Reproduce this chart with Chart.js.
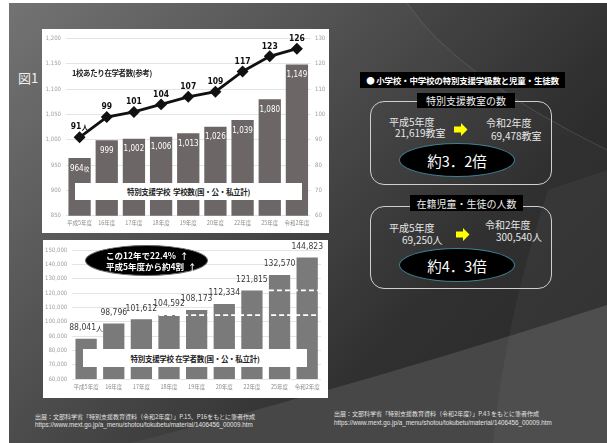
<!DOCTYPE html>
<html lang="ja">
<head>
<meta charset="utf-8">
<script src="https://cdn.jsdelivr.net/npm/chart.js@4.4.1/dist/chart.umd.min.js"></script>
<style>
html, body { margin: 0; padding: 0; }
body { width: 607px; height: 443px; background: #fff; position: relative; overflow: hidden;
       font-family: "Noto Sans CJK JP", "Noto Sans", sans-serif; }
#bg { position: absolute; left: 0; top: 0; }
.t { position: absolute; white-space: nowrap; line-height: 1; }
.panel { position: absolute; background: #fff; }
.box { position: absolute; background: #fff; display: flex; align-items: center; justify-content: center;
       font-weight: bold; font-size: 7.5px; color: #222; letter-spacing: -0.3px; white-space: nowrap; }
.frame { position: absolute; border: 1.5px solid #cfcfcf; border-radius: 14px; box-sizing: border-box; }
.caption { position: absolute; background: #000; color: #eee; font-size: 10px; display: flex;
           align-items: center; justify-content: center; white-space: nowrap; }
.oval { position: absolute; background: #000; border: 1px solid #3f7f93; border-radius: 50%; box-sizing: border-box;
        color: #fff; font-size: 14.5px; display: flex; align-items: center; justify-content: center; }
.light { color: #e6e6e6; font-size: 10px; }
.note { color: #e2e2e2; font-size: 6px; }
.url { font-family: "Liberation Sans", Arial, sans-serif; font-size: 6.3px; }
</style>
</head>
<body>
<svg id="bg" width="607" height="443">
  <defs>
    <linearGradient id="base" gradientUnits="userSpaceOnUse" x1="9" y1="3" x2="480" y2="430">
      <stop offset="0" stop-color="#737373"/>
      <stop offset="0.45" stop-color="#4d4d4d"/>
      <stop offset="0.8" stop-color="#303030"/>
      <stop offset="1" stop-color="#2c2c2c"/>
    </linearGradient>
  </defs>
  <rect x="9" y="3" width="598" height="440" fill="url(#base)"/>
  <path d="M 407 3 Q 455 75 607 150 L 607 3 Z" fill="#000" opacity="0.06"/>
  <path d="M 407 3 Q 455 75 607 150" stroke="#9a9a9a" stroke-opacity="0.25" fill="none"/>
  <path d="M 130 443 Q 360 385 607 305 L 607 443 Z" fill="#474747"/>
  <path d="M 548 190 Q 505 320 493 443 L 607 443 L 607 170 Z" fill="#fff" opacity="0.04"/>
</svg>

<div class="t" style="left:18px; top:71px; font-size:13px; color:#f0f0f0;">図1</div>

<!-- chart 1 -->
<div class="panel" style="left:42px; top:29px; width:287px; height:204px;">
  <canvas id="schoolChart"></canvas>
</div>
<div class="t" style="left:72px; top:69px; font-size:7.5px; font-weight:bold; color:#222; letter-spacing:-0.4px;">1校あたり在学者数(参考)</div>
<div class="box" style="left:75px; top:183px; width:227px; height:17px;">特別支援学校&nbsp;&nbsp;学校数(国・公・私立計)</div>

<!-- chart 2 -->
<div class="panel" style="left:43px; top:240px; width:285px; height:158px;">
  <canvas id="studentChart"></canvas>
</div>
<div class="box" style="left:83px; top:349px; width:224px; height:18px;">特別支援学校 在学者数(国・公・私立計)</div>
<div class="oval" style="left:85px; top:245px; width:123px; height:31px; border-color:#666; font-size:8.5px; font-weight:bold; display:block;">
  <div class="t" style="left:20px; top:5px;">この12年で22.4%&nbsp;&nbsp;↑</div>
  <div class="t" style="left:20px; top:16px;">平成5年度から約4割&nbsp;&nbsp;↑</div>
</div>

<!-- right side -->
<div class="caption" style="left:360px; top:72px; width:205px; height:16px; font-size:8.5px; font-weight:bold; color:#fff; letter-spacing:-0.2px;">●&nbsp;小学校・中学校の特別支援学級数と児童・生徒数</div>

<div class="frame" style="left:370px; top:101px; width:182px; height:84px;"></div>
<div class="caption" style="left:417px; top:93px; width:98px; height:15px;">特別支援教室の数</div>
<div class="t light" style="left:389px; top:117px;">平成5年度</div>
<div class="t light" style="left:395px; top:128px;">21,619教室</div>
<div class="t light" style="left:486px; top:118px;">令和2年度</div>
<div class="t light" style="left:491px; top:131px;">69,478教室</div>
<svg class="t" style="left:454px; top:123px;" width="14" height="13"><polygon points="0,3.5 7,3.5 7,0 13.5,6.5 7,13 7,9.5 0,9.5" fill="#ffff00"/></svg>
<div class="oval" style="left:399px; top:143px; width:116px; height:34px;">約3．2倍</div>

<div class="frame" style="left:370px; top:206px; width:182px; height:83px;"></div>
<div class="caption" style="left:410px; top:195px; width:113px; height:16px;">在籍児童・生徒の人数</div>
<div class="t light" style="left:389px; top:223px;">平成5年度</div>
<div class="t light" style="left:402px; top:235px;">69,250人</div>
<div class="t light" style="left:485px; top:220px;">令和2年度</div>
<div class="t light" style="left:496px; top:232px;">300,540人</div>
<svg class="t" style="left:456px; top:228px;" width="14" height="13"><polygon points="0,3.5 7,3.5 7,0 13.5,6.5 7,13 7,9.5 0,9.5" fill="#ffff00"/></svg>
<div class="oval" style="left:399px; top:248px; width:116px; height:34px;">約4．3倍</div>

<!-- sources -->
<div class="t note" style="left:35px; top:413.5px;">出展：文部科学省「特別支援教育資料（令和2年度）」P.15、P16をもとに筆者作成</div>
<div class="t note url" style="left:35px; top:421.5px;">https://www.mext.go.jp/a_menu/shotou/tokubetu/material/1406456_00009.htm</div>
<div class="t note" style="left:334px; top:411px;">出展：文部科学省「特別支援教育資料（令和2年度）」P.43 をもとに筆者作成</div>
<div class="t note url" style="left:334px; top:419.5px;">https://www.mext.go.jp/a_menu/shotou/tokubetu/material/1406456_00009.htm</div>

<script>
// 年度ごとのデータ
const years = ['平成5年度', '16年度', '17年度', '18年度', '19年度', '20年度', '22年度', '25年度', '令和2年度'];
const schoolCounts = [964, 999, 1002, 1006, 1013, 1026, 1039, 1080, 1149];
const studentsPerSchool = [91, 99, 101, 104, 107, 109, 117, 123, 126];
const studentCounts = [88041, 98796, 101612, 104592, 108173, 112334, 121815, 132570, 144823];

const schoolTicks = [850, 900, 950, 1000, 1050, 1100, 1150, 1200];
const perSchoolTicks = [60, 70, 80, 90, 100, 110, 120, 130];
const studentTicks = [60000, 70000, 80000, 90000, 100000, 110000, 120000, 130000, 140000, 150000];

// 破線: どの年度の値の高さに、どの年度から引くか
const refLineValueIdx = [3, 6];
const refLineFromIdx = [1, 7];

const NUM_FONT = '"Liberation Sans Narrow", "DejaVu Sans Condensed", "Liberation Sans", sans-serif';
const CJK_FONT = '"Noto Sans CJK JP", sans-serif';

function drawLabel(ctx, value, unit, x, y, numFont, unitFont) {
    const txt = value.toLocaleString('en-US');
    ctx.font = numFont;
    const w = ctx.measureText(txt).width;
    let uw = 0;
    if (unit) {
        ctx.font = unitFont;
        uw = ctx.measureText(unit).width;
    }
    const x0 = x - (w + uw) / 2;
    ctx.textAlign = 'left';
    ctx.textBaseline = 'middle';
    ctx.font = numFont;
    ctx.fillText(txt, x0, y);
    if (unit) {
        ctx.font = unitFont;
        ctx.fillText(unit, x0 + w, y + 0.5);
    }
}

const schoolLabels = {
    id: 'schoolLabels',
    afterDatasetsDraw(chart) {
        const ctx = chart.ctx;
        ctx.save();
        ctx.fillStyle = '#fff';
        chart.getDatasetMeta(1).data.forEach((bar, i) => {
            drawLabel(ctx, schoolCounts[i], i === 0 ? '校' : '', bar.x, bar.y + 10.5,
                '8px ' + NUM_FONT, '5.5px ' + CJK_FONT);
        });
        ctx.fillStyle = '#111';
        chart.getDatasetMeta(0).data.forEach((pt, i) => {
            drawLabel(ctx, studentsPerSchool[i], i === 0 ? '人' : '', pt.x, pt.y - 10,
                'bold 8.5px ' + NUM_FONT, 'bold 7px ' + CJK_FONT);
        });
        ctx.restore();
    }
};

const studentLabels = {
    id: 'studentLabels',
    afterDatasetsDraw(chart) {
        const ctx = chart.ctx;
        const meta = chart.getDatasetMeta(0);
        const yScale = chart.scales.y;
        ctx.save();
        // 白い破線
        ctx.strokeStyle = '#fff';
        ctx.lineWidth = 1.6;
        ctx.setLineDash([5, 3]);
        refLineValueIdx.forEach((vi, k) => {
            const y = yScale.getPixelForValue(studentCounts[vi]);
            const first = meta.data[refLineFromIdx[k]];
            const last = meta.data[meta.data.length - 1];
            ctx.beginPath();
            ctx.moveTo(first.x - first.width / 2, y);
            ctx.lineTo(last.x + last.width / 2, y);
            ctx.stroke();
        });
        ctx.setLineDash([]);
        ctx.fillStyle = '#3a3a3a';
        meta.data.forEach((bar, i) => {
            drawLabel(ctx, studentCounts[i], i === 0 ? '人' : '', bar.x, bar.y - 11,
                '8.5px ' + NUM_FONT, '7px ' + CJK_FONT);
        });
        ctx.restore();
    }
};

const xAxis = (height, pad) => ({
    grid: { display: false, drawTicks: false },
    border: { display: false },
    ticks: { color: '#8c8c8c', font: { size: 5.5, family: CJK_FONT }, padding: pad, maxRotation: 0, autoSkip: false },
    afterFit: axis => { axis.height = height; }
});

new Chart(document.getElementById('schoolChart'), {
    type: 'bar',
    data: {
        labels: years,
        datasets: [{
            type: 'line',
            data: studentsPerSchool,
            yAxisID: 'y1',
            borderColor: '#111',
            borderWidth: 2.8,
            pointStyle: 'rectRot',
            pointRadius: 4,
            pointBackgroundColor: '#111',
            pointBorderColor: '#111',
            tension: 0
        }, {
            data: schoolCounts,
            yAxisID: 'y',
            backgroundColor: '#6c6666',
            borderWidth: 0,
            barPercentage: 0.82,
            categoryPercentage: 1
        }]
    },
    options: {
        responsive: true,
        maintainAspectRatio: false,
        animation: false,
        locale: 'en-US',
        layout: { padding: { top: 9.6, left: 0, right: 0, bottom: 0 } },
        plugins: { legend: { display: false }, tooltip: { enabled: false } },
        scales: {
            x: xAxis(17.3, 4),
            y: {
                position: 'left',
                min: schoolTicks[0],
                max: schoolTicks[schoolTicks.length - 1],
                ticks: { stepSize: schoolTicks[1] - schoolTicks[0], color: '#a0a0a0', font: { size: 6, family: NUM_FONT }, padding: 5 },
                grid: { color: '#e4e4e4', drawTicks: false },
                border: { display: false },
                afterFit: axis => { axis.width = 24; }
            },
            y1: {
                position: 'right',
                min: perSchoolTicks[0],
                max: perSchoolTicks[perSchoolTicks.length - 1],
                ticks: { stepSize: perSchoolTicks[1] - perSchoolTicks[0], color: '#a0a0a0', font: { size: 6, family: NUM_FONT }, padding: 4.5 },
                grid: { display: false, drawTicks: false },
                border: { display: false },
                afterFit: axis => { axis.width = 18.5; }
            }
        }
    },
    plugins: [schoolLabels]
});

new Chart(document.getElementById('studentChart'), {
    type: 'bar',
    data: {
        labels: years,
        datasets: [{
            data: studentCounts,
            backgroundColor: '#7a7a7a',
            borderWidth: 0,
            barPercentage: 0.77,
            categoryPercentage: 1
        }]
    },
    options: {
        responsive: true,
        maintainAspectRatio: false,
        animation: false,
        locale: 'en-US',
        layout: { padding: { top: 10, left: 0, right: 7, bottom: 0 } },
        plugins: { legend: { display: false }, tooltip: { enabled: false } },
        scales: {
            x: xAxis(19, 5),
            y: {
                min: studentTicks[0],
                max: studentTicks[studentTicks.length - 1],
                ticks: { stepSize: studentTicks[1] - studentTicks[0], color: '#a0a0a0', font: { size: 6, family: NUM_FONT }, padding: 5 },
                grid: { color: '#e4e4e4', drawTicks: false },
                border: { display: false },
                afterFit: axis => { axis.width = 29.3; }
            }
        }
    },
    plugins: [studentLabels]
});
</script>
</body>
</html>
